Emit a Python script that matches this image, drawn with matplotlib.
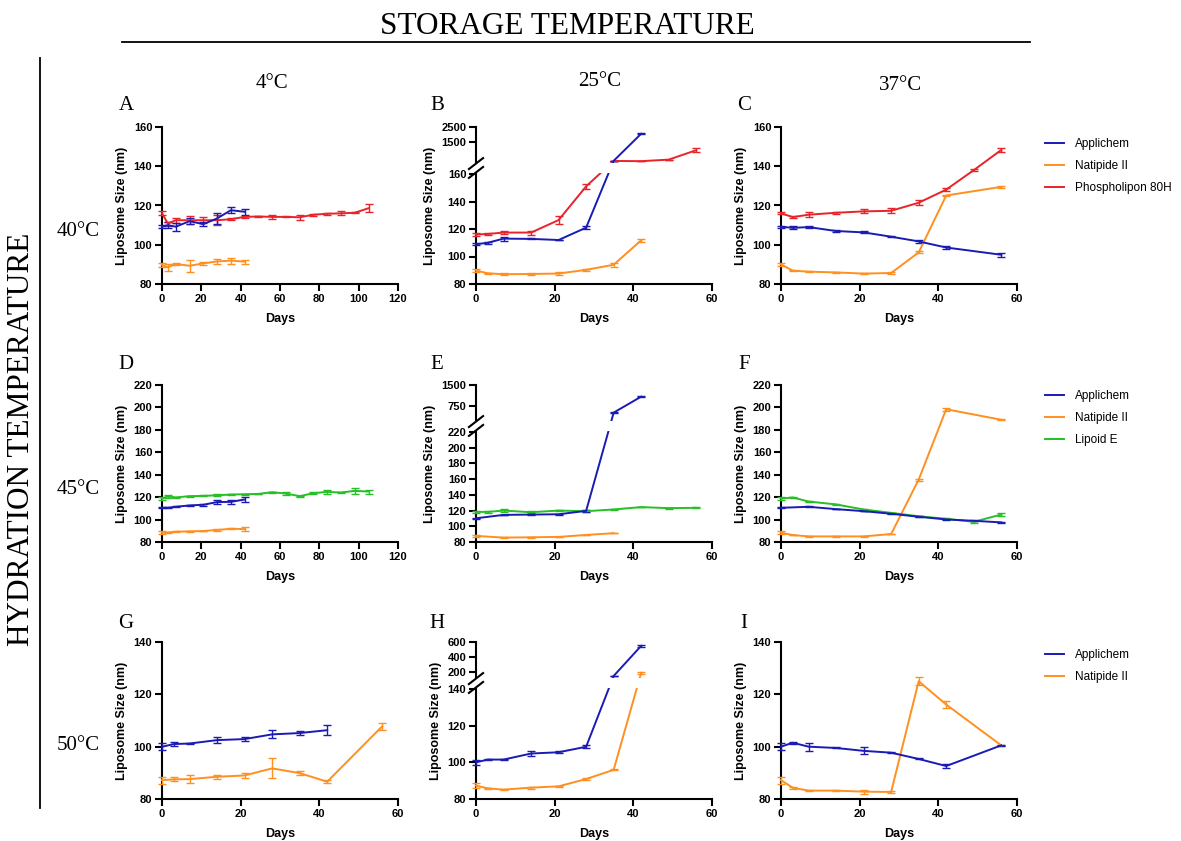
import numpy as np
import matplotlib
matplotlib.use("Agg")
import matplotlib.pyplot as plt
from matplotlib.lines import Line2D
from matplotlib.patches import Rectangle

plt.rcParams['font.family'] = ['Liberation Sans', 'DejaVu Sans']
plt.rcParams['font.weight'] = 'bold'
plt.rcParams['axes.labelweight'] = 'bold'

# ---------------- colours / labels ----------------
C_APP = '#1a1ab4'
C_NAT = '#ff8f1f'
C_PHO = '#e8232a'
C_LIP = '#26bf26'

row_labels = ['40°C', '45°C', '50°C']
col_labels = ['4°C', '25°C', '37°C']
panel_letters = ['A', 'B', 'C', 'D', 'E', 'F', 'G', 'H', 'I']

# ---------------- data ----------------
# Panel A (40°C hydration, 4°C storage)
A_app_days = [0, 3, 7, 14, 21, 28, 35, 42]
A_app_size = [109.2, 110.0, 109.2, 112.0, 110.5, 113.4, 117.6, 116.8]
A_app_err = [0.8, 1.5, 2.0, 1.5, 1.2, 3.0, 1.5, 1.5]
A_nat_days = [0, 3, 7, 14, 21, 28, 35, 42]
A_nat_size = [89.7, 88.5, 90.2, 89.3, 90.5, 91.5, 91.9, 91.4]
A_nat_err = [0.8, 1.8, 0.5, 3.0, 0.6, 1.2, 1.5, 1.0]
A_pho_days = [0, 3, 7, 14, 21, 28, 35, 42, 49, 56, 63, 70, 77, 84, 91, 98, 105]
A_pho_size = [116.0, 110.8, 112.5, 112.5, 112.5, 112.5, 113.0, 114.2, 114.4, 114.2,
              114.2, 114.0, 115.3, 115.8, 116.0, 116.3, 118.6]
A_pho_err = [1.0, 1.0, 1.2, 2.0, 1.5, 2.5, 0.5, 0.5, 0.5, 1.2, 0.3, 1.2, 0.5, 0.5, 1.0, 0.3, 2.0]

# Panel B (40°C hydration, 25°C storage) - broken axis
B_app_days = [0, 3, 7, 14, 21, 28, 35, 42]
B_app_size = [108.9, 110.0, 113.0, 112.8, 112.0, 121.0, 240.0, 2050.0]
B_app_err = [0.8, 0.8, 1.5, 0.3, 0.3, 1.0, 10.0, 50.0]
B_nat_days = [0, 3, 7, 14, 21, 28, 35, 42]
B_nat_size = [89.8, 87.8, 87.1, 87.3, 87.6, 90.3, 94.0, 111.8]
B_nat_err = [0.8, 0.5, 0.8, 0.6, 1.2, 0.8, 1.5, 1.0]
B_pho_days = [0, 3, 7, 14, 21, 28, 35, 42, 49, 56]
B_pho_size = [116.0, 116.4, 117.4, 117.4, 126.5, 151.0, 230.0, 215.0, 320.0, 950.0]
B_pho_err = [0.8, 0.8, 1.0, 1.5, 3.0, 2.0, 15.0, 5.0, 5.0, 120.0]

# Panel C (40°C hydration, 37°C storage)
C_app_days = [0, 3, 7, 14, 21, 28, 35, 42, 56]
C_app_size = [109.2, 108.6, 109.0, 107.0, 106.3, 104.1, 101.7, 98.6, 94.9]
C_app_err = [0.5, 0.7, 0.3, 0.6, 0.5, 0.4, 0.8, 0.8, 0.9]
C_nat_days = [0, 3, 7, 14, 21, 28, 35, 42, 56]
C_nat_size = [90.0, 86.8, 86.3, 85.9, 85.3, 85.6, 96.1, 125.1, 129.5]
C_nat_err = [0.6, 0.4, 0.3, 0.2, 0.2, 0.4, 0.5, 0.5, 0.6]
C_pho_days = [0, 3, 7, 14, 21, 28, 35, 42, 49, 56]
C_pho_size = [116.0, 114.1, 115.3, 116.3, 117.0, 117.3, 121.4, 128.1, 138.0, 148.3]
C_pho_err = [0.5, 0.6, 1.2, 0.4, 1.0, 1.2, 1.2, 0.6, 0.6, 0.8]

# Panel D (45°C hydration, 4°C storage)
D_app_days = [0, 3, 7, 14, 21, 28, 35, 42]
D_app_size = [110.5, 110.5, 111.4, 112.6, 113.2, 115.6, 115.8, 117.9]
D_app_err = [0.5, 0.5, 0.5, 0.8, 1.0, 1.8, 1.5, 1.8]
D_nat_days = [0, 3, 7, 14, 21, 28, 35, 42]
D_nat_size = [88.3, 88.5, 89.2, 89.5, 89.8, 90.7, 91.8, 91.5]
D_nat_err = [1.2, 0.3, 0.5, 0.3, 0.3, 0.5, 0.6, 1.8]
D_lip_days = [0, 3, 7, 14, 21, 28, 35, 42, 49, 56, 63, 70, 77, 84, 91, 98, 105]
D_lip_size = [118.8, 120.6, 119.7, 120.9, 121.1, 121.7, 122.3, 122.6, 122.9, 124.4,
              123.2, 120.9, 123.5, 124.7, 124.1, 125.6, 125.0]
D_lip_err = [1.0, 1.5, 0.5, 0.5, 0.5, 0.8, 0.5, 0.3, 0.3, 0.3, 1.0, 0.5, 0.8, 1.8, 0.3, 2.5, 1.8]

# Panel E (45°C hydration, 25°C storage) - broken axis
E_app_days = [0, 7, 14, 21, 28, 35, 42]
E_app_size = [110.2, 114.5, 114.9, 115.3, 119.6, 490.0, 1075.0]
E_app_err = [0.5, 0.5, 0.5, 0.5, 1.0, 25.0, 10.0]
E_nat_days = [0, 7, 14, 21, 28, 35]
E_nat_size = [87.8, 85.6, 86.0, 86.5, 89.0, 91.2]
E_nat_err = [1.5, 0.3, 0.5, 0.3, 0.3, 0.3]
E_lip_days = [0, 3, 7, 14, 21, 28, 35, 42, 49, 56]
E_lip_size = [118.3, 118.3, 120.0, 117.9, 120.0, 119.2, 121.4, 124.4, 123.1, 123.5]
E_lip_err = [1.0, 0.8, 2.0, 1.0, 0.8, 1.0, 0.8, 0.3, 0.8, 0.8]

# Panel F (45°C hydration, 37°C storage)
F_app_days = [0, 7, 14, 21, 28, 35, 42, 49, 56]
F_app_size = [110.5, 111.4, 109.3, 107.5, 105.2, 102.5, 100.1, 98.9, 97.5]
F_app_err = [0.3, 0.3, 0.3, 0.3, 0.3, 0.3, 0.3, 0.3, 0.3]
F_nat_days = [0, 3, 7, 14, 21, 28, 35, 42, 56]
F_nat_size = [88.3, 86.2, 85.0, 85.0, 85.0, 87.1, 135.6, 198.4, 189.0]
F_nat_err = [1.5, 0.3, 0.3, 0.3, 0.3, 0.3, 0.8, 1.5, 0.5]
F_lip_days = [0, 3, 7, 14, 21, 28, 35, 42, 49, 56]
F_lip_size = [118.8, 119.7, 116.1, 113.5, 109.0, 106.0, 103.0, 100.7, 98.0, 104.5]
F_lip_err = [1.0, 0.8, 0.5, 0.3, 0.3, 0.3, 0.3, 0.3, 1.0, 1.5]

# Panel G (50°C hydration, 4°C storage)
G_app_days = [0, 3, 7, 14, 21, 28, 35, 42]
G_app_size = [99.95, 101.0, 101.2, 102.5, 102.9, 104.7, 105.2, 106.3]
G_app_err = [1.3, 0.6, 0.3, 1.2, 0.8, 1.5, 0.7, 1.8]
G_nat_days = [0, 3, 7, 14, 21, 28, 35, 42, 56]
G_nat_size = [87.2, 87.5, 87.6, 88.5, 89.0, 91.7, 89.9, 86.6, 107.8]
G_nat_err = [1.3, 0.8, 1.6, 0.8, 1.0, 3.8, 0.7, 0.6, 1.3]

# Panel H (50°C hydration, 25°C storage) - broken axis
H_app_days = [0, 3, 7, 14, 21, 28, 35, 42]
H_app_size = [100.0, 101.5, 101.5, 104.8, 105.5, 108.5, 154.0, 550.0]
H_app_err = [1.2, 0.2, 0.2, 1.2, 0.5, 0.8, 3.0, 10.0]
H_nat_days = [0, 3, 7, 14, 21, 28, 35, 42]
H_nat_size = [87.3, 85.8, 85.1, 86.2, 86.9, 90.9, 95.9, 196.0]
H_nat_err = [1.3, 0.2, 0.2, 0.5, 0.2, 0.5, 0.3, 10.0]

# Panel I (50°C hydration, 37°C storage)
I_app_days = [0, 3, 7, 14, 21, 28, 35, 42, 56]
I_app_size = [100.0, 101.5, 100.0, 99.5, 98.4, 97.7, 95.3, 92.6, 100.5]
I_app_err = [1.3, 0.3, 1.5, 0.2, 1.3, 0.2, 0.2, 0.8, 0.3]
I_nat_days = [0, 3, 7, 14, 21, 28, 35, 42, 56]
I_nat_size = [87.2, 84.3, 83.2, 83.2, 82.8, 82.7, 125.0, 116.1, 100.5]
I_nat_err = [1.3, 0.3, 0.3, 0.3, 0.8, 0.3, 1.5, 1.5, 0.3]

# ---------------- figure ----------------
W, H = 1181, 841
fig = plt.figure(figsize=(W / 100, H / 100), dpi=100)
fig.patch.set_facecolor('white')

def fx(x):
    return x / W

def fy(y):
    return 1 - y / H

SERIF = ['Liberation Serif', 'DejaVu Serif']

fig.text(fx(567), fy(26), 'STORAGE TEMPERATURE', ha='center', va='center',
         fontsize=22.5, family=SERIF, weight='normal')
fig.add_artist(Line2D([fx(122), fx(1030)], [fy(42), fy(42)], color='black', lw=1.3))
fig.text(fx(22), fy(439), 'HYDRATION TEMPERATURE', ha='center', va='center',
         rotation=90, fontsize=22.5, family=SERIF, weight='normal')
fig.add_artist(Line2D([fx(40), fx(40)], [fy(58), fy(808)], color='black', lw=1.3))

col_hdr_pos = [(272, 83), (600, 81), (900, 86)]
for (x, y), lab in zip(col_hdr_pos, col_labels):
    fig.text(fx(x), fy(y), lab, ha='center', va='center', fontsize=15,
             family=SERIF, weight='normal')
row_lbl_pos = [(78, 232), (78, 489), (78, 746)]
for (x, y), lab in zip(row_lbl_pos, row_labels):
    fig.text(fx(x), fy(y), lab, ha='center', va='center', fontsize=15,
             family=SERIF, weight='normal')

cols_left = [162, 476, 781]
rows_top = [127, 385, 642]
AX_W, AX_H = 236, 157
letter_x = [126, 437, 744]
letter_y = [106, 365, 623]

L_SEG, G_SEG, U_SEG = 110.0, 12.0, 35.0


def broken_funcs(lo, b, hi):
    def fwd(v):
        v = np.asarray(v, dtype=float)
        return np.where(v <= b, (v - lo) / (b - lo) * L_SEG,
                        L_SEG + G_SEG + (v - b) / (hi - b) * U_SEG)

    def inv(t):
        t = np.asarray(t, dtype=float)
        return np.where(t <= L_SEG, lo + t / L_SEG * (b - lo),
                        np.where(t < L_SEG + G_SEG, b,
                                 b + (t - L_SEG - G_SEG) / U_SEG * (hi - b)))
    return fwd, inv


def make_ax(col, row):
    l = cols_left[col]
    t = rows_top[row]
    ax = fig.add_axes([fx(l), fy(t + AX_H), AX_W / W, AX_H / H])
    for s in ['top', 'right']:
        ax.spines[s].set_visible(False)
    for s in ['left', 'bottom']:
        ax.spines[s].set_linewidth(1.5)
    ax.tick_params(direction='out', length=5, width=1.5, labelsize=8, pad=2)
    ax.set_xlabel('Days', fontsize=9, labelpad=6.5)
    ax.set_ylabel('Liposome Size (nm)', fontsize=9, labelpad=4)
    fig.text(fx(letter_x[col]), fy(letter_y[row]), panel_letters[row * 3 + col],
             ha='center', va='center', fontsize=15, family=SERIF, weight='normal')
    return ax


def series(ax, d, y, e, c):
    cont = ax.errorbar(d, y, yerr=e, color=c, lw=1.4, elinewidth=1.0,
                       capsize=3, capthick=1.0, zorder=3)
    for art in cont.get_children():
        art.set_clip_on(False)


def finish_linear(ax, xmax, ymin, ymax, ystep):
    ax.set_xlim(0, xmax)
    ax.set_xticks(np.arange(0, xmax + 1, 20))
    ax.set_ylim(ymin, ymax)
    ax.set_yticks(np.arange(ymin, ymax + 1, ystep))


def finish_broken(ax, xmax, lo, b, hi, lower_step, upper_ticks):
    fwd, inv = broken_funcs(lo, b, hi)
    ax.set_yscale('function', functions=(fwd, inv))
    ax.set_xlim(0, xmax)
    ax.set_xticks(np.arange(0, xmax + 1, 20))
    ax.set_ylim(lo, hi)
    ax.set_yticks(list(np.arange(lo, b + 1, lower_step)) + list(upper_ticks))
    ax.minorticks_off()
    tot = L_SEG + G_SEG + U_SEG
    y0 = L_SEG / tot
    y1 = (L_SEG + G_SEG) / tot
    ax.add_patch(Rectangle((-0.012, y0 + 0.004), 1.05, (y1 - y0) - 0.008,
                           transform=ax.transAxes, facecolor='white',
                           edgecolor='none', zorder=5, clip_on=False))
    for yc in (y0 + 0.01, y1 - 0.01):
        ax.plot([-0.03, 0.03], [yc - 0.035, yc + 0.035], transform=ax.transAxes,
                color='black', lw=1.5, clip_on=False, zorder=6)


# Row 1
ax = make_ax(0, 0)
series(ax, A_nat_days, A_nat_size, A_nat_err, C_NAT)
series(ax, A_pho_days, A_pho_size, A_pho_err, C_PHO)
series(ax, A_app_days, A_app_size, A_app_err, C_APP)
finish_linear(ax, 120, 80, 160, 20)

ax = make_ax(1, 0)
series(ax, B_nat_days, B_nat_size, B_nat_err, C_NAT)
series(ax, B_pho_days, B_pho_size, B_pho_err, C_PHO)
series(ax, B_app_days, B_app_size, B_app_err, C_APP)
finish_broken(ax, 60, 80, 160, 2500, 20, [1500, 2500])

ax = make_ax(2, 0)
series(ax, C_nat_days, C_nat_size, C_nat_err, C_NAT)
series(ax, C_pho_days, C_pho_size, C_pho_err, C_PHO)
series(ax, C_app_days, C_app_size, C_app_err, C_APP)
finish_linear(ax, 60, 80, 160, 20)

# Row 2
ax = make_ax(0, 1)
series(ax, D_nat_days, D_nat_size, D_nat_err, C_NAT)
series(ax, D_lip_days, D_lip_size, D_lip_err, C_LIP)
series(ax, D_app_days, D_app_size, D_app_err, C_APP)
finish_linear(ax, 120, 80, 220, 20)

ax = make_ax(1, 1)
series(ax, E_nat_days, E_nat_size, E_nat_err, C_NAT)
series(ax, E_lip_days, E_lip_size, E_lip_err, C_LIP)
series(ax, E_app_days, E_app_size, E_app_err, C_APP)
finish_broken(ax, 60, 80, 220, 1500, 20, [750, 1500])

ax = make_ax(2, 1)
series(ax, F_nat_days, F_nat_size, F_nat_err, C_NAT)
series(ax, F_lip_days, F_lip_size, F_lip_err, C_LIP)
series(ax, F_app_days, F_app_size, F_app_err, C_APP)
finish_linear(ax, 60, 80, 220, 20)

# Row 3
ax = make_ax(0, 2)
series(ax, G_nat_days, G_nat_size, G_nat_err, C_NAT)
series(ax, G_app_days, G_app_size, G_app_err, C_APP)
finish_linear(ax, 60, 80, 140, 20)

ax = make_ax(1, 2)
series(ax, H_nat_days, H_nat_size, H_nat_err, C_NAT)
series(ax, H_app_days, H_app_size, H_app_err, C_APP)
finish_broken(ax, 60, 80, 140, 600, 20, [200, 400, 600])

ax = make_ax(2, 2)
series(ax, I_nat_days, I_nat_size, I_nat_err, C_NAT)
series(ax, I_app_days, I_app_size, I_app_err, C_APP)
finish_linear(ax, 60, 80, 140, 20)

# Legends
legend_sets = [
    (133, [('Applichem', C_APP), ('Natipide II', C_NAT), ('Phospholipon 80H', C_PHO)]),
    (385, [('Applichem', C_APP), ('Natipide II', C_NAT), ('Lipoid E', C_LIP)]),
    (644, [('Applichem', C_APP), ('Natipide II', C_NAT)]),
]
for ytop, items in legend_sets:
    handles = [Line2D([], [], color=c, lw=1.4) for _, c in items]
    labels = [n for n, _ in items]
    fig.legend(handles, labels, loc='upper left', bbox_to_anchor=(fx(1040), fy(ytop)),
               frameon=False, prop={'family': 'Liberation Sans', 'weight': 'normal', 'size': 8.5},
               handlelength=1.6, handletextpad=1.0, labelspacing=0.85, borderaxespad=0)

fig.savefig('out.png', dpi=100, facecolor='white')
